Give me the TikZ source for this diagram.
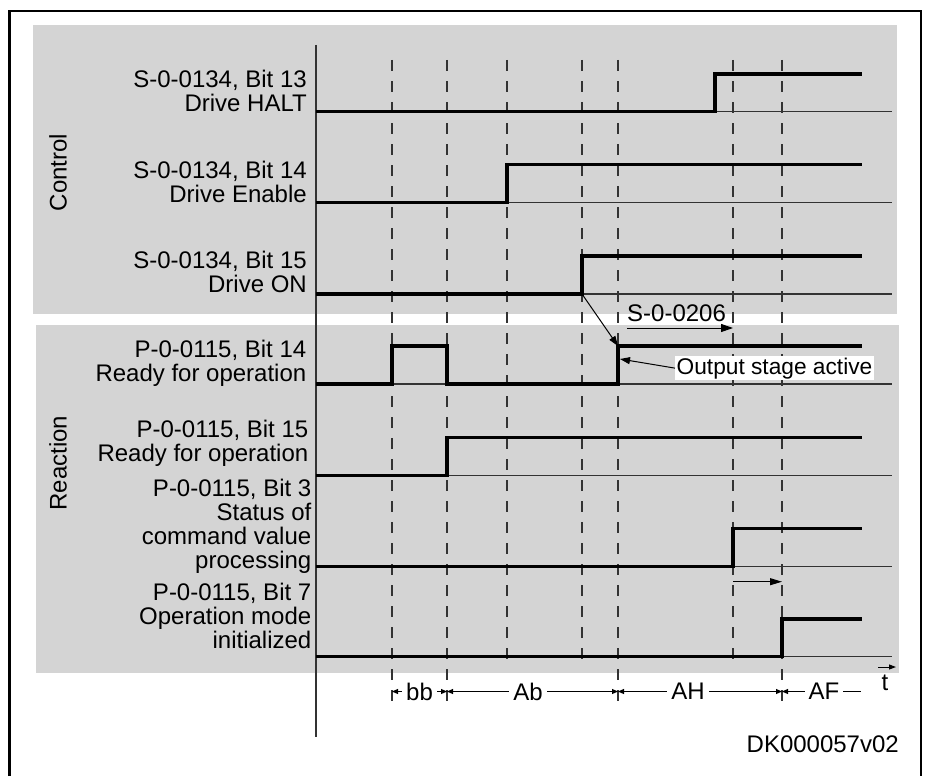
\documentclass[tikz,border=0pt]{standalone}
\usepackage{fontspec}
\setmainfont{Liberation Sans}
\usetikzlibrary{arrows.meta}
\definecolor{panelgray}{RGB}{212,212,212}
\definecolor{linegray}{RGB}{51,51,51}

\begin{document}
\begin{tikzpicture}[x=1pt, y=-1pt,
    every node/.style={inner sep=0pt, font=\fontsize{24}{24}\selectfont},
    lbl/.style={align=right, anchor=base east},
    sigline/.style={line width=3.6pt},
    refline/.style={line width=1.2pt, draw=linegray},
    tmark/.style={line width=1.4pt, draw=linegray, dash pattern=on 11pt off 10pt},
    dimtip/.style={line width=1pt, {Triangle[length=6pt,width=5pt]}-{Triangle[length=6pt,width=5pt]}},
    dimlbl/.style={fill=white, inner sep=4pt}]
    \useasboundingbox (0,0) rectangle (928,776);

    % frame and panels
    \draw[line width=2.5pt] (9.7,776) -- (9.7,11) -- (921,11) -- (921,776);
    \fill[panelgray] (33,25) rectangle (897,314);
    \fill[panelgray] (36,325) rectangle (899,673);

    \node[rotate=90] (control) at (58,172.5) {Control};
    \node[rotate=90] (reaction) at (58,463.3) {Reaction};

    % time axis and markers
    \draw[line width=1.5pt, linegray] (316,45) -- (316,737);
    \draw[tmark] (392,60) -- (392,711);
    \draw[tmark] (447,60) -- (447,711);
    \draw[tmark] (507,60) -- (507,665);
    \draw[tmark] (582,60) -- (582,665);
    \draw[tmark] (618,60) -- (618,711);
    \draw[tmark] (733,60) -- (733,665);
    \draw[tmark] (782,60) -- (782,711);

    % signal names
    \node[lbl] (halt) at (307,111) {S-0-0134, Bit 13\\Drive HALT};
    \node[lbl] (enable) at (307,202) {S-0-0134, Bit 14\\Drive Enable};
    \node[lbl] (driveon) at (307,292.7) {S-0-0134, Bit 15\\Drive ON};
    \node[lbl] (rdy14) at (306.5,381.7) {P-0-0115, Bit 14\\Ready for operation};
    \node[lbl] (rdy15) at (308.5,461.7) {P-0-0115, Bit 15\\Ready for operation};
    \node[lbl] (cmdval) at (311.5,568) {P-0-0115, Bit 3\\Status of\\command value\\processing};
    \node[lbl] (opmode) at (311.5,648) {P-0-0115, Bit 7\\Operation mode\\initialized};

    % reference lines
    \draw[refline] (316,111.5) -- (892,111.5);
    \draw[refline] (316,202.3) -- (892,202.3);
    \draw[refline] (316,294) -- (892,294);
    \draw[refline] (316,384) -- (892,384);
    \draw[refline] (316,475.5) -- (892,475.5);
    \draw[refline] (316,566.5) -- (892,566.5);
    \draw[refline] (316,656.5) -- (892,656.5);

    % signals
    \draw[sigline] (316,111.5) -- (715,111.5) -- (715,74) -- (862,74);
    \draw[sigline] (316,202.3) -- (507,202.3) -- (507,164.5) -- (862,164.5);
    \draw[sigline] (316,294) -- (582,294) -- (582,256) -- (862,256);
    \draw[sigline] (316,384) -- (392,384) -- (392,346) -- (447,346) -- (447,384)
        -- (618,384) -- (618,346) -- (862,346);
    \draw[sigline] (316,475.5) -- (447,475.5) -- (447,437.5) -- (862,437.5);
    \draw[sigline] (316,566.5) -- (733,566.5) -- (733,528.5) -- (862,528.5);
    \draw[sigline] (316,656.5) -- (782,656.5) -- (782,618.7) -- (862,618.7);

    % annotations
    \coordinate (onstep) at (582,294);
    \coordinate (rdystep) at (618,346);
    \draw[line width=1pt, -{Triangle[length=10pt,width=7pt]}] (onstep) -- (rdystep);

    \node[anchor=base west] (delay) at (627,321.7) {S-0-0206};
    \coordinate (d0) at (627,328);
    \coordinate (d1) at (733,328);
    \draw[line width=1pt, -{Triangle[length=12pt,width=8pt]}] (d0) -- (d1);

    \node[anchor=base west, fill=white, inner sep=1.5pt, font=\fontsize{22.7}{24}\selectfont] (osa)
        at (675,374) {Output stage active};
    \coordinate (rdyedge) at (620,359);
    \draw[line width=1pt, -{Triangle[length=10pt,width=7pt]}] (osa.west) -- (rdyedge);

    \coordinate (c0) at (733,581.7);
    \coordinate (c1) at (782,581.7);
    \draw[line width=1pt, -{Triangle[length=12pt,width=7pt]}] (c0) -- (c1);

    % time axis arrow
    \coordinate (t0) at (878,667);
    \coordinate (t1) at (896,667);
    \draw[line width=1pt, -{Triangle[length=7pt,width=5pt]}] (t0) -- (t1);
    \node[anchor=base] (tlbl) at (885,690) {t};

    % phases
    \coordinate (m1) at (392,691.5);
    \coordinate (m2) at (447,691.5);
    \coordinate (m3) at (618,691.5);
    \coordinate (m4) at (782,691.5);
    \coordinate (m5) at (861,691.5);
    \draw[dimtip] (m1) -- node[dimlbl] (bb) {bb} (m2);
    \draw[dimtip] (m2) -- node[dimlbl, pos=0.474] (ab) {Ab} (m3);
    \draw[dimtip] (m3) -- node[dimlbl, pos=0.427] (ah) {AH} (m4);
    \draw[line width=1pt, {Triangle[length=6pt,width=5pt]}-] (m4) -- node[dimlbl, pos=0.53] (af) {AF} (m5);

    \node[anchor=base east] (docid) at (899,752) {DK000057v02};
\end{tikzpicture}
\end{document}
